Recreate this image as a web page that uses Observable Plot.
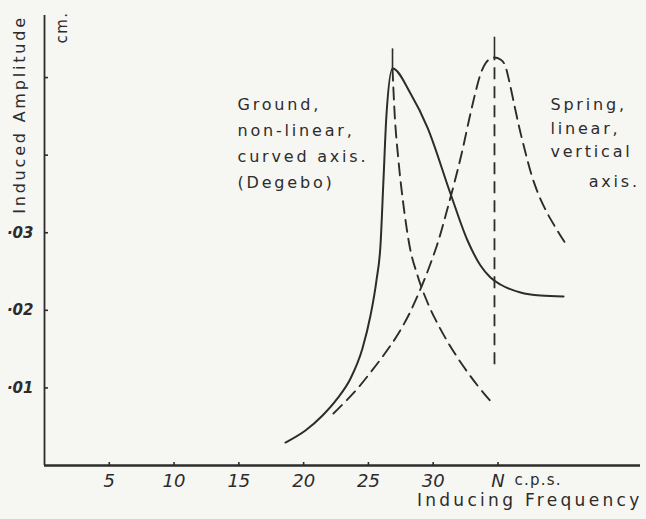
<!DOCTYPE html>
<html>
<head>
<meta charset="utf-8">
<script src="https://cdn.jsdelivr.net/npm/d3@7"></script>
<script src="https://cdn.jsdelivr.net/npm/@observablehq/plot@0.6"></script>
<style>
  html, body { margin: 0; padding: 0; background: #f6f6f3; }
  #chart svg { display: block; }
</style>
</head>
<body>
<div id="chart"></div>
<script>
// Ground response (solid): non-linear, curved axis (Degebo)
const groundFreq = [18.60, 20.14, 21.46, 22.61, 23.62, 24.54, 25.16, 25.62, 25.93, 26.16, 26.39, 26.86, 28.25, 29.56, 31.33, 32.65, 33.65, 34.42, 35.19, 36.74, 38.28, 40.06];
const groundAmp  = [0.00296, 0.00451, 0.00644, 0.00864, 0.01121, 0.01508, 0.01933, 0.02384, 0.02836, 0.03673, 0.04511, 0.05117, 0.04795, 0.04356, 0.03506, 0.02900, 0.02578, 0.02423, 0.02333, 0.02230, 0.02191, 0.02178];

// Dashed decay from the ground peak
const groundDashFreq = [26.86, 27.01, 27.32, 27.71, 28.17, 28.79, 29.56, 30.41, 31.33, 32.34, 33.42, 34.58];
const groundDashAmp  = [0.05117, 0.04576, 0.03931, 0.03351, 0.02836, 0.02449, 0.02101, 0.01805, 0.01534, 0.01276, 0.01031, 0.00799];

// Spring response (dashed): linear, vertical axis
const springFreq = [22.30, 23.23, 24.16, 25.16, 26.16, 27.17, 28.09, 28.94, 29.71, 30.41, 31.02, 31.64, 32.25, 32.79, 33.26, 33.64, 34.03, 34.42, 34.73, 35.19, 35.58, 35.89, 36.27, 36.66, 37.12, 37.58, 38.13, 38.74, 39.44, 40.21];
const springAmp  = [0.00670, 0.00825, 0.00992, 0.01199, 0.01418, 0.01663, 0.01933, 0.02243, 0.02565, 0.02900, 0.03261, 0.03648, 0.04060, 0.04472, 0.04808, 0.05040, 0.05181, 0.05246, 0.05259, 0.05233, 0.05143, 0.04937, 0.04640, 0.04344, 0.04034, 0.03751, 0.03493, 0.03274, 0.03068, 0.02861];

// Resonance markers (vertical lines)
const markerFreq   = [26.86, 34.73];
const markerPeak   = [0.05117, 0.05259];
const markerTop    = [0.0537, 0.0552];
const markerBottom = [null, 0.0130];

// Axis ticks
const xTicks = [5, 10, 15, 20, 25, 30, 35];
const xTickLabels = ["5", "10", "15", "20", "25", "30", "N"];
const yTicks = [0.01, 0.02, 0.03, 0.04, 0.05];
const yTickLabels = ["·01", "·02", "·03", "", ""];

const ink = "#2c2c2c";
const bg = "#f6f6f3";

const ground = groundFreq.map((f, i) => ({f, a: groundAmp[i]}));
const groundDash = groundDashFreq.map((f, i) => ({f, a: groundDashAmp[i]}));
const spring = springFreq.map((f, i) => ({f, a: springAmp[i]}));
const markers = markerFreq.map((f, i) => ({f, peak: markerPeak[i], top: markerTop[i], bottom: markerBottom[i]}));

const chart = Plot.plot({
  width: 646,
  height: 519,
  marginTop: 15,
  marginBottom: 54,
  marginLeft: 44,
  marginRight: 6,
  style: {background: bg, color: ink, fontFamily: "DejaVu Sans, sans-serif"},
  x: {domain: [0, 46]},
  y: {domain: [0, 0.058]},
  marks: [
    Plot.ruleY([0], {stroke: ink, strokeWidth: 2.4}),
    Plot.ruleX([0], {stroke: ink, strokeWidth: 1.8}),
    Plot.axisX(xTicks, {
      tickSize: -3, tickPadding: 12, stroke: ink, strokeWidth: 1.6,
      tickFormat: d => xTickLabels[xTicks.indexOf(d)],
      fontSize: 18, fontStyle: "italic", fill: ink, label: null
    }),
    Plot.axisY(yTicks, {
      tickSize: -4, tickPadding: 15, stroke: ink, strokeWidth: 1.6,
      tickFormat: d => yTickLabels[yTicks.indexOf(d)],
      fontSize: 15, fontStyle: "italic", fontWeight: "bold", fill: ink, label: null
    }),
    // curves
    Plot.line(ground, {x: "f", y: "a", curve: "monotone-x", stroke: ink, strokeWidth: 2}),
    Plot.line(groundDash, {x: "f", y: "a", curve: "monotone-x", stroke: ink, strokeWidth: 1.9, strokeDasharray: "12,7"}),
    Plot.line(spring, {x: "f", y: "a", curve: "monotone-x", stroke: ink, strokeWidth: 1.9, strokeDasharray: "12,7"}),
    // resonance markers
    Plot.ruleX(markers, {x: "f", y1: "peak", y2: "top", stroke: ink, strokeWidth: 1.6}),
    Plot.ruleX(markers.filter(d => d.bottom != null), {x: "f", y1: "bottom", y2: "peak", stroke: ink, strokeWidth: 1.8, strokeDasharray: "12,7"}),
    // annotations
    Plot.text(["Ground,\nnon-linear,\ncurved axis.\n(Degebo)"], {
      x: 14.9, y: 0.0482, text: d => d, textAnchor: "start", lineAnchor: "top",
      lineHeight: 1.63, fontSize: 16, fill: ink
    }),
    Plot.text(["Spring,\nlinear,\nvertical"], {
      x: 39.05, y: 0.0479, text: d => d, textAnchor: "start", lineAnchor: "top",
      lineHeight: 1.45, fontSize: 16, fill: ink
    }),
    Plot.text(["axis."], {
      x: 42.0, y: 0.0373, text: d => d, textAnchor: "start", lineAnchor: "top",
      fontSize: 16, fill: ink
    }),
    Plot.text(["c.p.s."], {
      x: 38.1, y: 0, text: d => d, dy: 9, lineAnchor: "top",
      fontSize: 15, fill: ink
    }),
    Plot.text(["Inducing Frequency"], {
      frameAnchor: "bottom-right", text: d => d, textAnchor: "end", lineAnchor: "top",
      dx: 2, dy: 28, fontSize: 17, fill: ink
    }),
    Plot.text(["Induced Amplitude"], {
      frameAnchor: "top-left", text: d => d, rotate: -90, textAnchor: "middle",
      dx: -31, dy: 99, fontSize: 16, fill: ink
    }),
    Plot.text(["cm."], {
      frameAnchor: "top-left", text: d => d, rotate: -90, textAnchor: "middle",
      dx: 12, dy: 12, fontSize: 15, fill: ink
    })
  ]
});

// hand-lettered look: widen letter spacing by text content
const spacingRules = [
  ["Ground", 2.8], ["Spring", 2.8], ["axis.", 2.8],
  ["Inducing", 3.3], ["Induced", 2.8], ["c.p.s.", 1.2], ["cm.", 1.5]
];
d3.select(chart).selectAll("text").each(function () {
  const t = this.textContent;
  for (const [key, s] of spacingRules) {
    if (t.startsWith(key)) { this.setAttribute("letter-spacing", s + "px"); break; }
  }
});

document.getElementById("chart").appendChild(chart);
</script>
</body>
</html>
